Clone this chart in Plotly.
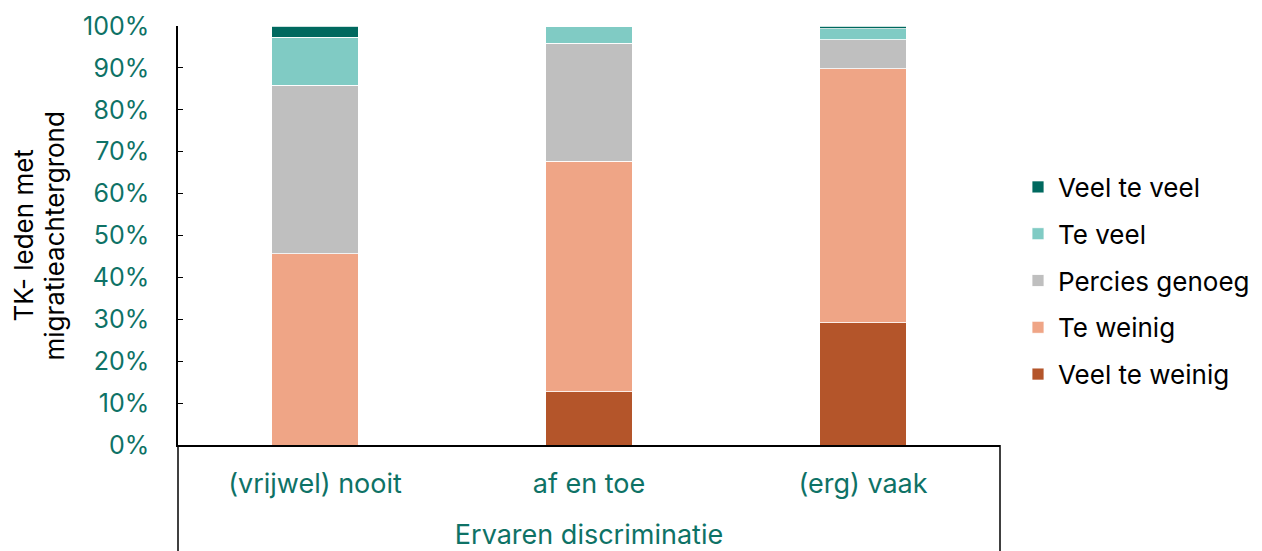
import plotly.graph_objects as go

categories = ["(vrijwel) nooit", "af en toe", "(erg) vaak"]
series_names = ["Veel te weinig", "Te weinig", "Percies genoeg", "Te veel", "Veel te veel"]
veel_te_weinig = [0.0, 12.7, 29.2]
te_weinig = [45.6, 55.0, 60.6]
percies_genoeg = [40.3, 28.2, 6.9]
te_veel = [11.4, 4.1, 2.6]
veel_te_veel = [2.7, 0.0, 0.7]
colors = ["#B4552A", "#EFA586", "#BFBFBF", "#80CBC4", "#00695F"]
y_ticks = [0, 10, 20, 30, 40, 50, 60, 70, 80, 90, 100]
y_tick_labels = [f"{v}%" for v in y_ticks]
y_title_lines = ["TK- leden met", "migratieachtergrond"]

series_values = [veel_te_weinig, te_weinig, percies_genoeg, te_veel, veel_te_veel]

FONT = "Inter"
TEAL = "#0E7266"
FS = 25

L, T, PW, PH = 170, 18, 822, 419
W, H = 1254, 543

fig = go.Figure()
n = len(series_names)
for i, (name, vals, col) in enumerate(zip(series_names, series_values, colors)):
    fig.add_trace(go.Bar(
        x=categories, y=vals, name=name,
        marker=dict(color=col, line=dict(color="white", width=0.8)),
        legendgroup=f"g{i}", legendrank=n - i,
        hoverinfo="name+y",
    ))

fig.update_layout(
    width=W, height=H,
    barmode="stack", bargap=0.686,
    plot_bgcolor="white", paper_bgcolor="white",
    margin=dict(l=L, r=W - L - PW, t=T, b=H - T - PH, autoexpand=False),
    font=dict(family=FONT, size=FS, color="black"),
    showlegend=True,
    legend=dict(
        traceorder="grouped", tracegroupgap=10,
        xref="container", yref="container",
        x=(1018 - 8) / W, xanchor="left", y=1 - (281 - 8) / H, yanchor="middle",
        font=dict(family=FONT, size=26, color="black"),
        itemwidth=30,
    ),
    xaxis=dict(
        automargin=False,
        showline=True, linecolor="black", linewidth=1.5,
        ticks="", tickfont=dict(family=FONT, size=27, color=TEAL),
        ticklabelstandoff=14,
        title=dict(text="Ervaren discriminatie", font=dict(family=FONT, size=27, color=TEAL), standoff=31),
    ),
    yaxis=dict(
        automargin=False,
        range=[0, 100], tickvals=y_ticks, ticktext=y_tick_labels,
        showgrid=False, zeroline=False,
        showline=True, linecolor="black", linewidth=1.5,
        ticks="inside", ticklen=5, tickcolor="black", tickwidth=1,
        tickfont=dict(family=FONT, size=FS, color=TEAL),
        ticklabelstandoff=22,
    ),
)

for txt, px in zip(y_title_lines, [23, 54]):
    fig.add_annotation(text=txt, xref="paper", yref="paper",
                       x=(px - 178) / PW, y=0.5, xanchor="center", yanchor="middle",
                       textangle=-90, showarrow=False,
                       font=dict(family=FONT, size=26, color="black"))

fig.add_shape(type="line", xref="paper", yref="paper", x0=0, x1=0, y0=0, y1=-0.3,
              line=dict(color="black", width=1.5))
fig.add_shape(type="line", xref="paper", yref="paper", x0=1, x1=1, y0=0, y1=-0.3,
              line=dict(color="black", width=1.5))

fig.write_html("out.html")
